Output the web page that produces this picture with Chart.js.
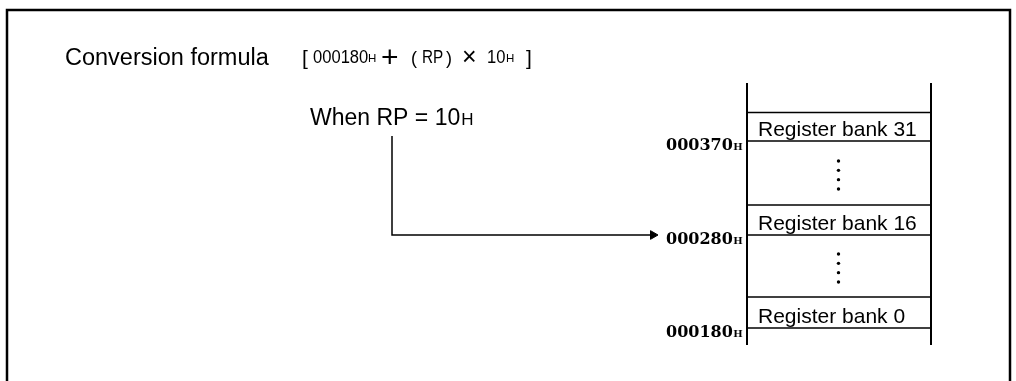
<!DOCTYPE html>
<html>
<head>
<meta charset="utf-8">
<script src="https://cdn.jsdelivr.net/npm/chart.js@4"></script>
<style>
  html, body { margin: 0; padding: 0; background: #ffffff; }
  #wrap { width: 1016px; height: 381px; position: relative; }
  canvas { display: block; }
</style>
</head>
<body>
<div id="wrap"><canvas id="c" width="1016" height="381"></canvas></div>
<script>
// ---------------- data ----------------
const titleText = 'Conversion formula';
const baseAddress = '000180';
const multiplier = '10';
const rpValue = '10';
const bankNumbers = [0, 16, 31];
const bankAddresses = ['000180', '000280', '000370'];
const hexSuffix = 'H';

// ---------------- layout (diagram units) ----------------
const FRAME = { left: 7, top: 10, right: 1010, bottom: 381 };
const MAP = { left: 747, right: 931, top: 83, bottom: 345 };
const rowTop = [297, 205, 112.5];
const rowBottom = [328, 235, 141];
const textLeft = 758;
const addrLeft = 666;
const arrowStart = { x: 392, y: 136 };
const arrowTipX = 657;
const DOT_COUNT = 4, DOT_GAP = 9.3;

const K = '#000000';
const datasets = [];
function seg(points, width) {
  datasets.push({
    type: 'scatter', showLine: true, data: points, borderColor: K, backgroundColor: K,
    borderWidth: width, pointRadius: 0, pointHoverRadius: 0, clip: false, tension: 0
  });
}
// frame
seg([{x: FRAME.left, y: FRAME.bottom + 2}, {x: FRAME.left, y: FRAME.top}, {x: FRAME.right, y: FRAME.top}, {x: FRAME.right, y: FRAME.bottom + 2}], 2.5);
// memory map verticals
seg([{x: MAP.left, y: MAP.top}, {x: MAP.left, y: MAP.bottom}], 2);
seg([{x: MAP.right, y: MAP.top}, {x: MAP.right, y: MAP.bottom}], 2);
// bank cell lines
rowTop.forEach(y => seg([{x: MAP.left, y}, {x: MAP.right, y}], 1.7));
rowBottom.forEach(y => seg([{x: MAP.left, y}, {x: MAP.right, y}], 1.7));
// arrow to the bank selected by RP
const targetIdx = bankNumbers.indexOf(parseInt(rpValue, 16));
const arrowY = rowBottom[targetIdx];
seg([{x: arrowStart.x, y: arrowStart.y}, {x: arrowStart.x, y: arrowY}, {x: arrowTipX - 6, y: arrowY}], 1.5);
datasets.push({
  type: 'scatter', data: [{x: arrowTipX - 4, y: arrowY}], pointStyle: 'triangle', pointRotation: 90,
  pointRadius: 5, backgroundColor: K, borderColor: K, borderWidth: 1, clip: false
});
// continuation dots between banks
const dotPts = [];
for (let i = 0; i < rowTop.length - 1; i++) {
  const mid = (rowTop[i] + rowBottom[i + 1]) / 2 + 2;
  for (let d = 0; d < DOT_COUNT; d++) {
    dotPts.push({x: (MAP.left + MAP.right) / 2 - 0.5, y: mid + (d - (DOT_COUNT - 1) / 2) * DOT_GAP});
  }
}
datasets.push({
  type: 'scatter', data: dotPts, pointStyle: 'circle', pointRadius: 1.7,
  backgroundColor: K, borderColor: K, borderWidth: 0, clip: false
});

const SANS = '"Liberation Sans", Arial, Helvetica, sans-serif';
const SERIF = '"DejaVu Serif", "Liberation Serif", serif';

const textPlugin = {
  id: 'diagramText',
  afterDatasetsDraw(chart) {
    const ctx = chart.ctx, sx = chart.scales.x, sy = chart.scales.y;
    const X = v => sx.getPixelForValue(v), Y = v => sy.getPixelForValue(v);
    ctx.save();
    ctx.fillStyle = K;
    ctx.textBaseline = 'alphabetic';
    ctx.textAlign = 'left';
    function put(txt, x, y, font, sxf) {
      ctx.font = font;
      if (sxf) {
        ctx.save(); ctx.translate(X(x), Y(y)); ctx.scale(sxf, 1); ctx.fillText(txt, 0, 0); ctx.restore();
      } else {
        ctx.fillText(txt, X(x), Y(y));
      }
    }
    // title + formula
    put(titleText, 65, 65, '23.5px ' + SANS);
    put('[', 302, 65, '21px ' + SANS);
    put(baseAddress, 313, 62.5, '18px ' + SANS, 0.92);
    put(hexSuffix, 368, 62, '11.5px ' + SANS);
    put('+', 381, 67, '30px ' + SANS);
    put('(', 411, 64, '18px ' + SANS);
    put('RP', 422, 62.5, '18px ' + SANS, 0.85);
    put(')', 446, 64, '18px ' + SANS);
    put('×', 462, 64.5, '25px ' + SANS);
    put(multiplier, 487, 62.5, '18px ' + SANS, 0.92);
    put(hexSuffix, 506, 62, '11.5px ' + SANS);
    put(']', 526, 65, '21px ' + SANS);
    // RP value
    ctx.font = '23px ' + SANS;
    const w1 = 'When RP = ' + rpValue;
    ctx.fillText(w1, X(310), Y(125));
    const wW = ctx.measureText(w1).width;
    ctx.font = '17px ' + SANS;
    ctx.fillText(hexSuffix, X(310) + wW + 1, Y(125));
    // bank labels and addresses
    bankNumbers.forEach((n, i) => {
      put('Register bank ' + n, textLeft, rowBottom[i] - 5.5, '21px ' + SANS);
      ctx.font = 'bold 16px ' + SERIF;
      ctx.fillText(bankAddresses[i], X(addrLeft), Y(rowBottom[i] + 8.5));
      const aw = ctx.measureText(bankAddresses[i]).width;
      ctx.font = 'bold 10px ' + SERIF;
      ctx.fillText(hexSuffix, X(addrLeft) + aw + 0.5, Y(rowBottom[i] + 8.5));
    });
    ctx.restore();
  }
};

new Chart(document.getElementById('c'), {
  type: 'scatter',
  data: { datasets },
  options: {
    responsive: false, animation: false, devicePixelRatio: 1,
    layout: { padding: 0, autoPadding: false },
    events: [],
    plugins: { legend: { display: false }, tooltip: { enabled: false }, title: { display: false } },
    scales: {
      x: { type: 'linear', min: 0, max: 1016, display: false },
      y: { type: 'linear', min: 0, max: 381, reverse: true, display: false }
    }
  },
  plugins: [textPlugin]
});
</script>
</body>
</html>
